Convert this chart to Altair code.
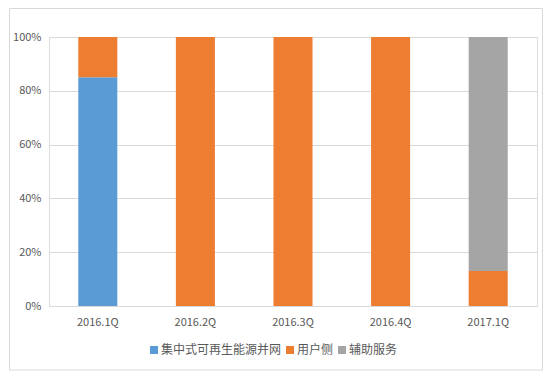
import altair as alt
import pandas as pd

quarters = ["2016.1Q", "2016.2Q", "2016.3Q", "2016.4Q", "2017.1Q"]
series = ["集中式可再生能源并网", "用户侧", "辅助服务"]
colors = ["#5B9BD5", "#ED7D31", "#A5A5A5"]
central = [85, 0, 0, 0, 0]
user_side = [15, 100, 100, 100, 13]
ancillary = [0, 0, 0, 0, 87]

rows = []
for i, q in enumerate(quarters):
    for k, vals in enumerate([central, user_side, ancillary]):
        rows.append({"quarter": q, "series": series[k], "value": vals[i], "ord": k})
df = pd.DataFrame(rows)

W, H = 488, 269
FONT = "Noto Sans CJK SC"

bars = alt.Chart(df).mark_bar().encode(
    x=alt.X("quarter:N", sort=quarters, title=None,
            scale=alt.Scale(paddingInner=0.6, paddingOuter=0.3),
            axis=alt.Axis(labelAngle=0, ticks=False, domain=True, domainColor="#d9d9d9",
                          labelColor="#595959", labelFontSize=11, labelPadding=10, labelFont=FONT)),
    y=alt.Y("value:Q", stack="normalize", title=None,
            scale=alt.Scale(domain=[0, 1]),
            axis=alt.Axis(values=[0, 0.2, 0.4, 0.6, 0.8, 1.0], format=".0%", domain=False, ticks=False,
                          gridColor="#d9d9d9", labelColor="#595959", labelFontSize=11,
                          labelPadding=8, labelFont=FONT)),
    color=alt.Color("series:N", scale=alt.Scale(domain=series, range=colors), title=None,
                    legend=alt.Legend(orient="none", legendX=99, legendY=307, direction="horizontal",
                                      symbolType="square", symbolSize=64, symbolStrokeWidth=0,
                                      labelFontSize=12, labelColor="#595959", labelFont=FONT,
                                      columnPadding=2, symbolOffset=0, labelOffset=1)),
    order=alt.Order("ord:Q"),
)

border = alt.Chart(pd.DataFrame({"a": [0]})).mark_rect(fill=None, stroke="#d9d9d9", strokeWidth=1).encode(
    x=alt.value(-39.5), x2=alt.value(W + 5.5), y=alt.value(-28.5), y2=alt.value(H + 64)
)

chart = alt.layer(border, bars).properties(
    width=W, height=H,
    autosize=alt.AutoSizeParams(type="none"),
    padding={"left": 41, "top": 29, "right": 9, "bottom": 66},
).configure_view(stroke=None).configure(background="white")

chart.save("out.html", embed_options={"renderer": "svg", "actions": False})
